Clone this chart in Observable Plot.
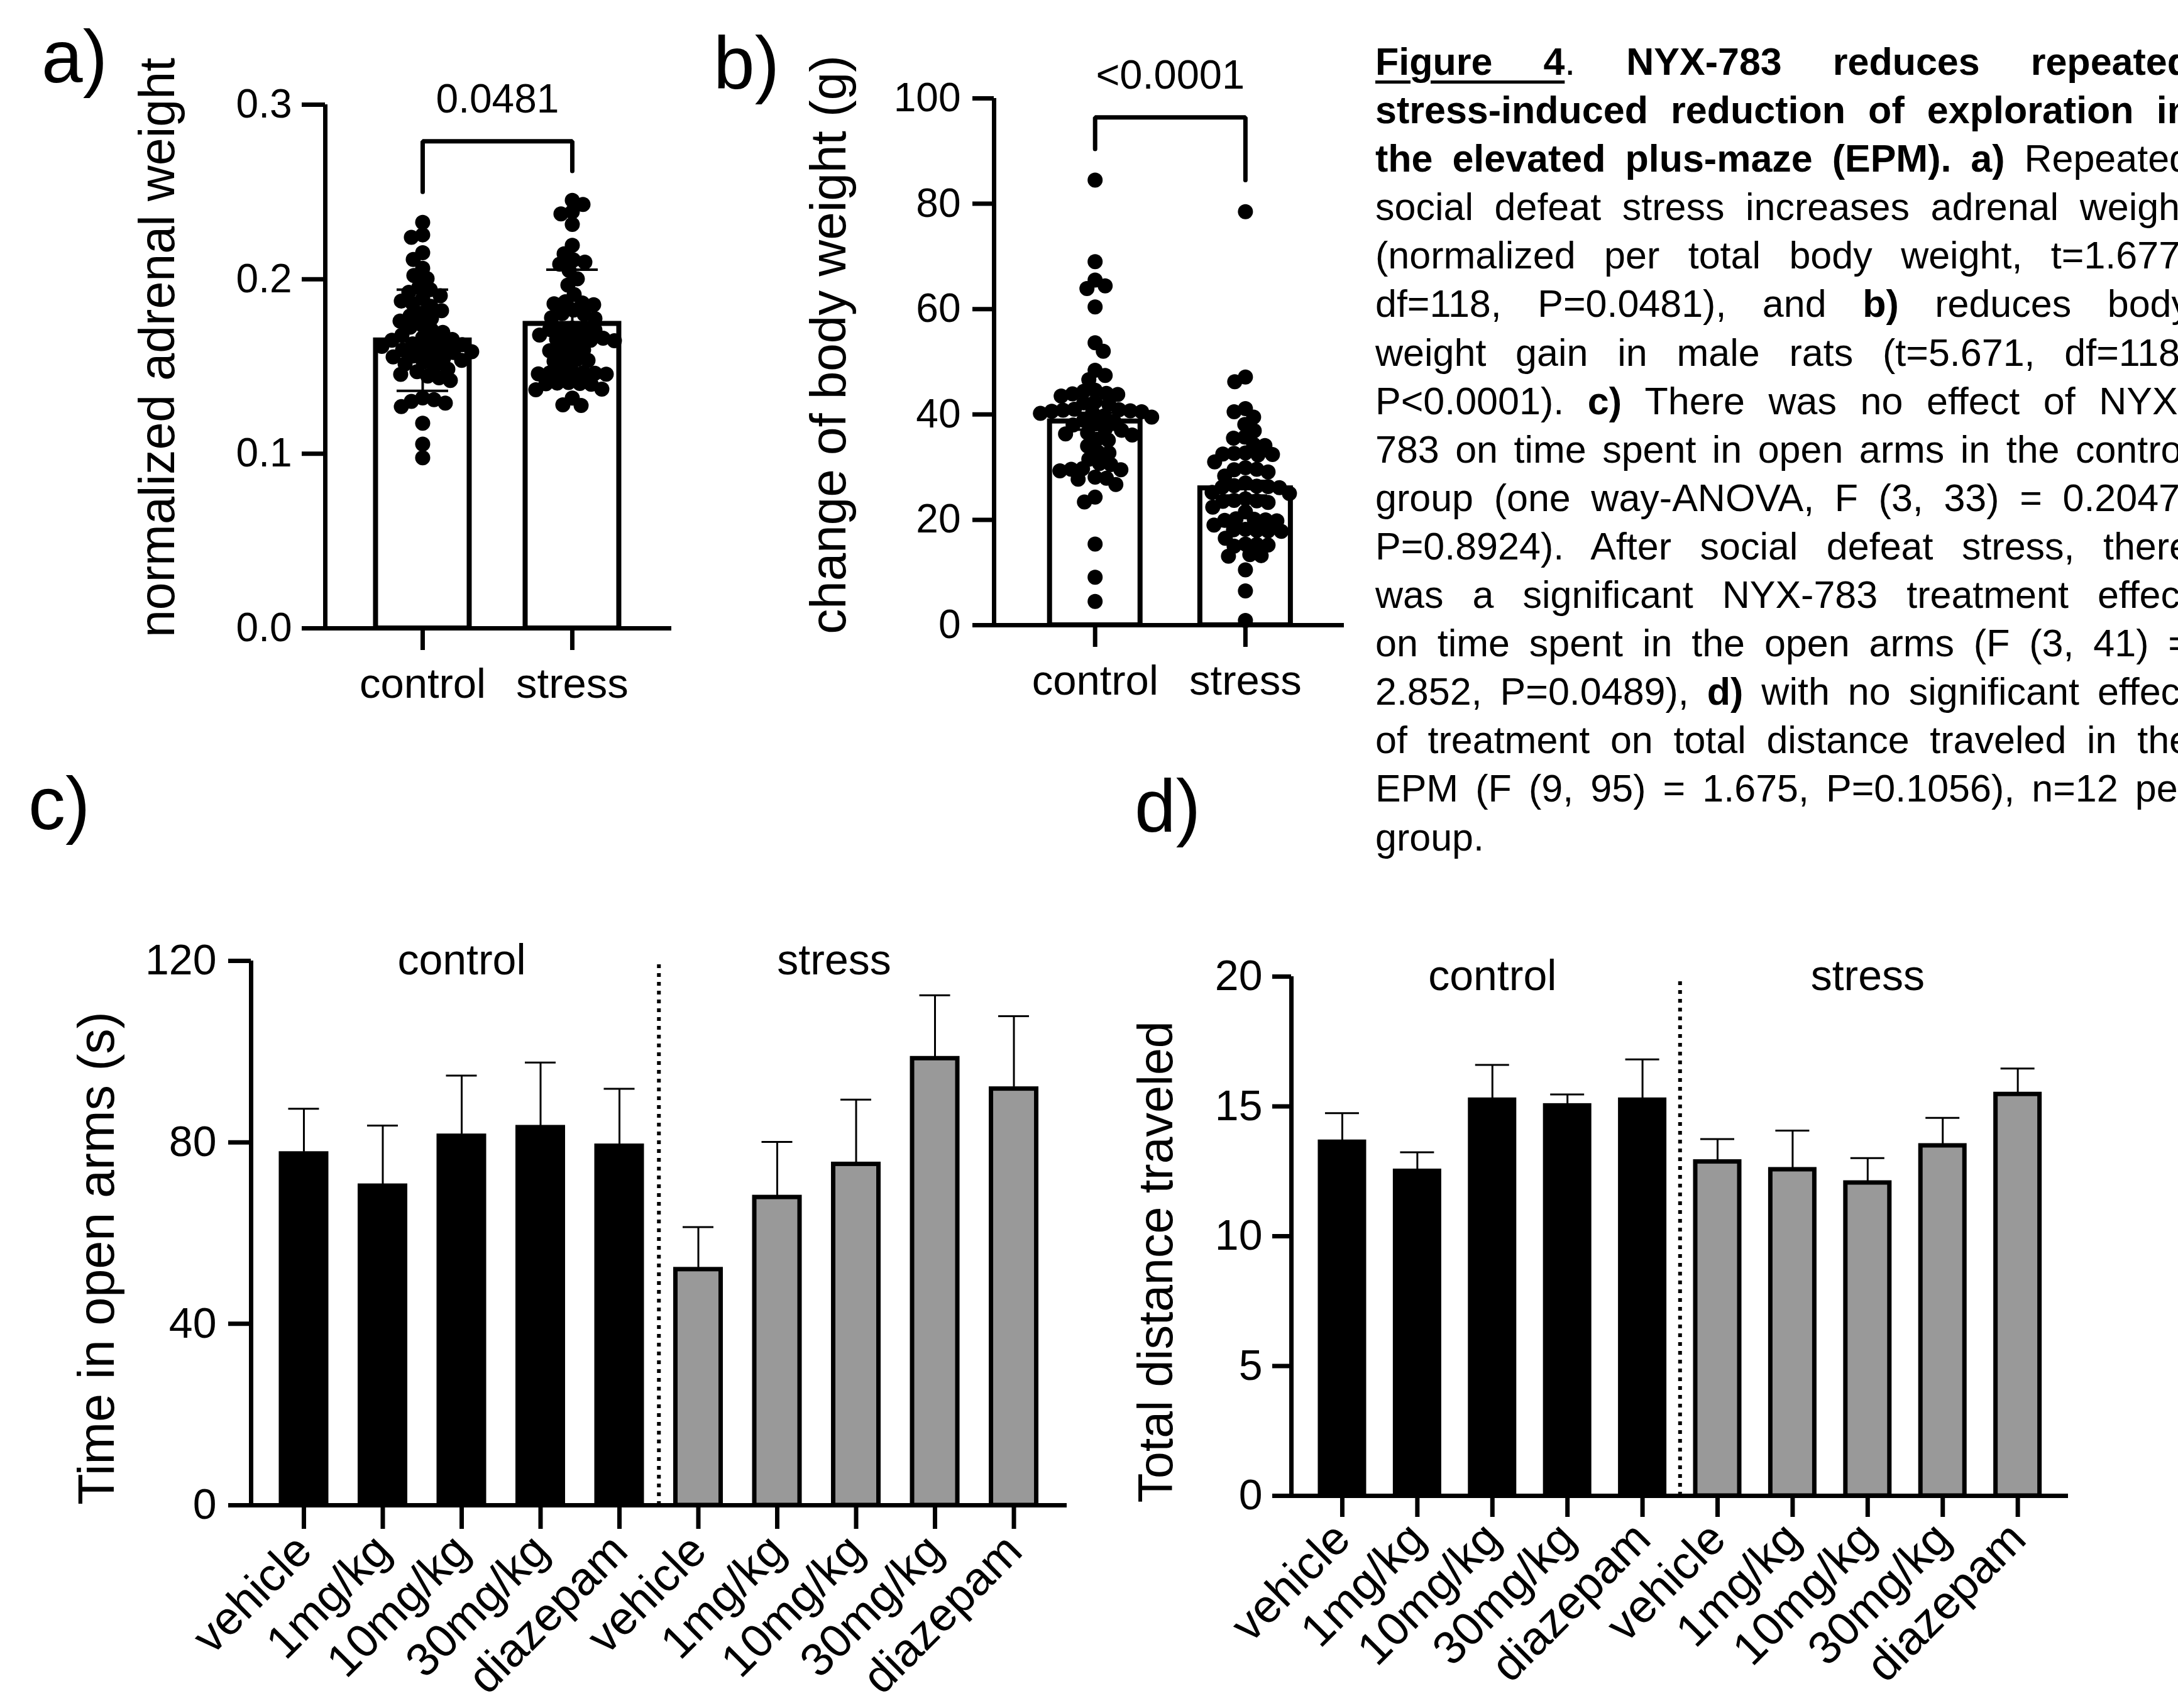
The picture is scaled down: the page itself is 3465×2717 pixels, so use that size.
<!DOCTYPE html>
<html>
<head>
<meta charset="utf-8">
<script src="https://cdn.jsdelivr.net/npm/d3@7"></script>
<script src="https://cdn.jsdelivr.net/npm/@observablehq/plot@0.6"></script>
<style>
html, body { margin: 0; padding: 0; background: #fff; }
#page { position: relative; width: 3465px; height: 2717px; overflow: hidden; background: #fff;
  font-family: "Liberation Sans", Arial, sans-serif; color: #000; }
.panel { position: absolute; }
.plabel { position: absolute; font-size: 118px; line-height: 1; }
#caption { position: absolute; left: 2188px; top: 60px; width: 1297px; font-size: 61px; line-height: 77.1px; }
#caption .ln { text-align: justify; text-align-last: justify; }
#caption .ln.last { text-align: left; text-align-last: left; }
#caption u { text-decoration-thickness: 5px; text-underline-offset: 9px; }
</style>
</head>
<body>
<div id="page">
  <div class="plabel" style="left:66px; top:31px;">a)</div>
  <div class="plabel" style="left:1135px; top:41px;">b)</div>
  <div class="plabel" style="left:45px; top:1219px;">c)</div>
  <div class="plabel" style="left:1805px; top:1223px;">d)</div>
  <div id="panelA" class="panel" style="left:0px; top:0px;"></div>
  <div id="panelB" class="panel" style="left:1100px; top:0px;"></div>
  <div id="panelC" class="panel" style="left:0px; top:1450px;"></div>
  <div id="panelD" class="panel" style="left:1750px; top:1450px;"></div>
  <div id="caption">
    <div class="ln"><b><u>Figure 4</u></b>. <b>NYX-783 reduces repeated</b></div>
    <div class="ln"><b>stress-induced reduction of exploration in</b></div>
    <div class="ln"><b>the elevated plus-maze (EPM). a)</b> Repeated</div>
    <div class="ln">social defeat stress increases adrenal weight</div>
    <div class="ln">(normalized per total body weight, t=1.677,</div>
    <div class="ln">df=118, P=0.0481), and <b>b)</b> reduces body</div>
    <div class="ln">weight gain in male rats (t=5.671, df=118,</div>
    <div class="ln">P&lt;0.0001). <b>c)</b> There was no effect of NYX-</div>
    <div class="ln">783 on time spent in open arms in the control</div>
    <div class="ln">group (one way-ANOVA, F (3, 33) = 0.2047,</div>
    <div class="ln">P=0.8924). After social defeat stress, there</div>
    <div class="ln">was a significant NYX-783 treatment effect</div>
    <div class="ln">on time spent in the open arms (F (3, 41) =</div>
    <div class="ln">2.852, P=0.0489), <b>d)</b> with no significant effect</div>
    <div class="ln">of treatment on total distance traveled in the</div>
    <div class="ln">EPM (F (9, 95) = 1.675, P=0.1056), n=12 per</div>
    <div class="ln last">group.</div>
  </div>
</div>
<script>
// ---------------- DATA ----------------
const groupsAB = ["control", "stress"];

// a) normalized adrenal weight (individual animals)
const adrenalControl = [0.2326, 0.2254, 0.2240, 0.2152, 0.2113, 0.2063, 0.2021, 0.2003,
  0.1955, 0.194, 0.1925, 0.1905, 0.189, 0.1875, 0.186, 0.1845, 0.182, 0.1805, 0.179, 0.1775,
  0.176, 0.174, 0.1725, 0.171, 0.1695, 0.168, 0.1665, 0.1655, 0.165, 0.164, 0.163, 0.1625,
  0.1615, 0.161, 0.160, 0.1595, 0.1585, 0.158, 0.157, 0.156, 0.1555, 0.1545, 0.1535, 0.1525,
  0.1515, 0.150, 0.1485, 0.147, 0.1455, 0.1445, 0.1435, 0.142,
  0.132, 0.130, 0.131, 0.129, 0.127, 0.1175, 0.1055, 0.0977];
const adrenalStress = [0.2452, 0.2428, 0.2386, 0.2374, 0.2314,
  0.2194, 0.2146, 0.2110, 0.2098, 0.2086, 0.2050, 0.2002, 0.1966,
  0.1912, 0.1871, 0.1859, 0.1864, 0.1854, 0.1823, 0.1799, 0.1803, 0.1775, 0.1779,
  0.1715, 0.1720, 0.1710, 0.1718, 0.1712, 0.168,
  0.1655, 0.1660, 0.1650, 0.1657, 0.1662, 0.1648,
  0.1595, 0.1600, 0.1590, 0.1597,
  0.1535, 0.1540, 0.1530, 0.1537,
  0.1463, 0.1468, 0.1458, 0.1465, 0.1470, 0.1456, 0.1461,
  0.1403, 0.1408, 0.1398, 0.1405, 0.1401,
  0.1367, 0.1370, 0.1319, 0.1277, 0.1280];
const adrenalMean = [0.165, 0.1745];
const adrenalSD = [0.029, 0.031];
const adrenalBracket = [0.250, 0.279, 0.262]; // left leg end, top, right leg end
const adrenalP = "0.0481";
const adrenalTicks = [0, 0.1, 0.2, 0.3];

// b) change of body weight (g)
const bodyControl = [84.5, 69.0, 65.5, 64.4, 63.9, 60.4, 53.6, 52.0, 48.4, 47.4, 46.6, 44.6, 44.4, 44.0,
  43.8, 43.5, 43.9, 42.2, 42.4, 41.9, 40.7, 40.9, 40.5, 40.8, 40.6, 41.0, 38.7, 38.9, 36.3, 36.5, 36.1,
  35.1, 35.3, 32.7, 32.9, 31.5, 29.5, 29.7, 29.3, 29.6, 27.9, 28.1, 27.7, 26.7, 24.3, 23.4, 15.4, 9.1, 4.5,
  40.2, 40.3, 39.5, 39.7, 38.0, 38.2, 37.0, 37.2, 34.0, 30.5, 30.7];
const bodyStress = [78.5, 47.1, 46.2, 41.1, 40.5, 39.5, 38.1, 36.9, 35.7, 35.5, 34.1, 34.3, 32.5, 32.7, 32.3,
  32.6, 32.4, 31.0, 29.9, 29.5, 29.6, 29.1, 28.3, 27.0, 26.3, 26.5, 26.1, 26.4, 26.2, 25.0, 25.2, 24.0,
  23.5, 23.7, 23.3, 23.6, 22.4, 21.5, 20.0, 20.2, 19.8, 20.1, 19.9, 19.0, 18.0, 18.2, 17.8, 18.1, 17.9,
  16.5, 15.2, 15.4, 15.0, 15.3, 13.2, 13.4, 13.1, 10.5, 6.5, 0.9];
const bodyMean = [38.7, 26.0];
const bodySEM = [1.6, 1.4];
const bodyBracket = [90.4, 96.4, 84.5];
const bodyP = "<0.0001";
const bodyTicks = [0, 20, 40, 60, 80, 100];

// c) and d) — ten groups
const treatments = ["vehicle", "1mg/kg", "10mg/kg", "30mg/kg", "diazepam",
                    "vehicle", "1mg/kg", "10mg/kg", "30mg/kg", "diazepam"];
const condition = ["control", "control", "control", "control", "control",
                   "stress", "stress", "stress", "stress", "stress"];
const openArmsMean = [77.9, 70.8, 81.8, 83.7, 79.6, 52.4, 68.3, 75.6, 98.9, 92.2];
const openArmsSEM  = [9.5, 12.9, 12.9, 13.9, 12.2, 8.9, 11.8, 13.8, 13.5, 15.6];
const openArmsTicks = [0, 40, 80, 120];
const distanceMean = [13.7, 12.58, 15.32, 15.1, 15.32, 12.94, 12.64, 12.13, 13.56, 15.54];
const distanceSEM  = [1.04, 0.65, 1.28, 0.36, 1.49, 0.8, 1.43, 0.88, 1.0, 0.92];
const distanceTicks = [0, 5, 10, 15, 20];
const conditionNames = ["control", "stress"];

// ---------------- HELPERS ----------------
const FONT = "Liberation Sans, Arial, Helvetica, sans-serif";
const GRAY = "#999999";

function swarm(vals, yPx, minDist) {
  const order = vals.map((_, i) => i).sort((a, b) => vals[b] - vals[a]);
  const placed = [];
  const off = new Array(vals.length).fill(0);
  order.forEach((i, n) => {
    const y = yPx(vals[i]);
    for (let k = 0; k < 600; k++) {
      const cands = k === 0 ? [0] : (n % 2 ? [k, -k] : [-k, k]);
      const c = cands.find(c => placed.every(p => (p.x - c) ** 2 + (p.y - y) ** 2 >= minDist * minDist));
      if (c !== undefined) { off[i] = c; placed.push({x: c, y}); return; }
    }
  });
  return off;
}

function dotPanel(cfg) {
  const {width, height, marginLeft, marginTop, marginBottom, marginRight, xDomain, yDomain} = cfg;
  const innerW = width - marginLeft - marginRight;
  const innerH = height - marginTop - marginBottom;
  const ppx = innerW / (xDomain[1] - xDomain[0]);
  const yPx = v => marginTop + (1 - (v - yDomain[0]) / (yDomain[1] - yDomain[0])) * innerH;
  const dots = [];
  cfg.series.forEach((vals, g) => {
    const off = swarm(vals, yPx, cfg.minDist);
    vals.forEach((v, i) => dots.push({x: g + off[i] / ppx, y: v}));
  });
  const bars = cfg.means.map((m, g) => ({g, m, lo: m - cfg.errs[g], hi: m + cfg.errs[g]}));
  const hw = cfg.barHalfPx / ppx, cw = cfg.capHalfPx / ppx;
  const [bl, bt, br] = cfg.bracket;
  const bracket = [{x: 0, y: bl}, {x: 0, y: bt}, {x: 1, y: bt}, {x: 1, y: br}];
  return Plot.plot({
    width, height, marginLeft, marginTop, marginBottom, marginRight,
    style: {fontFamily: FONT, color: "black", background: "transparent", overflow: "visible"},
    x: {domain: xDomain},
    y: {domain: yDomain},
    marks: [
      Plot.rectY(bars, {x1: d => d.g - hw, x2: d => d.g + hw, y1: 0, y2: "m", fill: "white", stroke: "black", strokeWidth: 8}),
      Plot.dot(dots, {x: "x", y: "y", r: cfg.r, fill: "black", stroke: null}),
      Plot.ruleX(bars, {x: "g", y1: "lo", y2: "hi", stroke: "black", strokeWidth: 4}),
      Plot.ruleY(bars, {y: "hi", x1: d => d.g - cw, x2: d => d.g + cw, stroke: "black", strokeWidth: 4}),
      Plot.ruleY(bars, {y: "lo", x1: d => d.g - cw, x2: d => d.g + cw, stroke: "black", strokeWidth: 4}),
      Plot.line(bracket, {x: "x", y: "y", stroke: "black", strokeWidth: 7, strokeLinecap: "round", strokeLinejoin: "miter"}),
      Plot.text([cfg.p], {x: 0.5, y: bt, text: d => d, lineAnchor: "bottom", dy: cfg.pDy, fontSize: cfg.pSize, fill: "black"}),
      Plot.ruleX([xDomain[0]], {stroke: "black", strokeWidth: 7}),
      Plot.ruleY([yDomain[0]], {stroke: "black", strokeWidth: 7, insetLeft: -cfg.yTickSize}),
      Plot.axisY({ticks: cfg.yTicks, tickFormat: cfg.yFormat, tickSize: cfg.yTickSize, tickPadding: cfg.yTickPadding,
        fontSize: cfg.yTickFont, strokeWidth: 7, label: null}),
      Plot.axisX({ticks: [0, 1], tickFormat: i => groupsAB[i], tickSize: cfg.xTickSize, tickPadding: cfg.xTickPadding,
        fontSize: cfg.xTickFont, strokeWidth: 7, label: null}),
      Plot.text([cfg.title], {frameAnchor: "left", text: d => d, rotate: -90, textAnchor: "middle", lineAnchor: "middle",
        dx: cfg.titleDx, dy: cfg.titleDy, fontSize: cfg.titleSize, fill: "black"})
    ]
  });
}

function barPanel(cfg) {
  const {width, height, marginLeft, marginTop, marginBottom, marginRight, xDomain, yDomain} = cfg;
  const innerW = width - marginLeft - marginRight;
  const ppx = innerW / (xDomain[1] - xDomain[0]);
  const hw = cfg.barHalfPx / ppx, cw = cfg.capHalfPx / ppx;
  const rows = cfg.means.map((m, i) => ({i, m, hi: m + cfg.errs[i], cond: condition[i]}));
  const groupLabels = conditionNames.map((c, k) => {
    const idx = rows.filter(r => r.cond === c).map(r => r.i);
    return {name: c, x: d3.mean(idx), dx: cfg.groupDx[k]};
  });
  return Plot.plot({
    width, height, marginLeft, marginTop, marginBottom, marginRight,
    style: {fontFamily: FONT, color: "black", background: "transparent", overflow: "visible"},
    x: {domain: xDomain},
    y: {domain: yDomain},
    marks: [
      Plot.ruleX(rows, {x: "i", y1: "m", y2: "hi", stroke: "black", strokeWidth: 3}),
      Plot.ruleY(rows, {y: "hi", x1: d => d.i - cw, x2: d => d.i + cw, stroke: "black", strokeWidth: 3}),
      Plot.rectY(rows, {x1: d => d.i - hw, x2: d => d.i + hw, y1: 0, y2: "m",
        fill: d => d.cond === "control" ? "black" : GRAY, stroke: "black", strokeWidth: 7, insetTop: 3}),
      Plot.ruleX([d3.mean([4, 5])], {y1: yDomain[0], y2: yDomain[1], stroke: "black", strokeWidth: 6, strokeDasharray: "6,8"}),
      ...groupLabels.map(g => Plot.text([g], {x: "x", y: yDomain[1], text: "name", dx: g.dx, fontSize: cfg.groupFont, fill: "black"})),
      Plot.ruleX([xDomain[0]], {stroke: "black", strokeWidth: 7}),
      Plot.ruleY([yDomain[0]], {stroke: "black", strokeWidth: 7, insetLeft: -cfg.yTickSize}),
      Plot.axisY({ticks: cfg.yTicks, tickSize: cfg.yTickSize, tickPadding: cfg.yTickPadding,
        fontSize: cfg.yTickFont, strokeWidth: 7, label: null}),
      Plot.axisX({ticks: d3.range(treatments.length), tickFormat: i => treatments[i], tickRotate: -45,
        tickSize: cfg.xTickSize, tickPadding: cfg.xTickPadding, fontSize: cfg.xTickFont, strokeWidth: 7, label: null}),
      Plot.text([cfg.title], {frameAnchor: "left", text: d => d, rotate: -90, textAnchor: "middle", lineAnchor: "middle",
        dx: cfg.titleDx, dy: cfg.titleDy, fontSize: cfg.titleSize, fill: "black"})
    ]
  });
}

// ---------------- PANELS ----------------
document.getElementById("panelA").append(dotPanel({
  width: 1100, height: 1150, marginLeft: 517, marginTop: 166, marginBottom: 151, marginRight: 32,
  xDomain: [-0.651, 1.664], yDomain: [0, 0.3],
  series: [adrenalControl, adrenalStress], means: adrenalMean, errs: adrenalSD,
  bracket: adrenalBracket, p: adrenalP, pDy: -46, pSize: 64,
  barHalfPx: 74.5, capHalfPx: 41, r: 12, minDist: 18,
  yTicks: adrenalTicks, yFormat: d3.format(".1f"), yTickSize: 37, yTickPadding: 16, yTickFont: 64,
  xTickSize: 35, xTickPadding: 28, xTickFont: 67,
  title: "normalized adrenal weight", titleDx: -266, titleDy: -30, titleSize: 79
}));

document.getElementById("panelB").append(dotPanel({
  width: 1100, height: 1150, marginLeft: 481, marginTop: 156, marginBottom: 156, marginRight: 62,
  xDomain: [-0.672, 1.657], yDomain: [0, 100],
  series: [bodyControl, bodyStress], means: bodyMean, errs: bodySEM,
  bracket: bodyBracket, p: bodyP, pDy: -46, pSize: 65,
  barHalfPx: 72, capHalfPx: 35, r: 12, minDist: 18,
  yTicks: bodyTicks, yFormat: d3.format("d"), yTickSize: 34, yTickPadding: 19, yTickFont: 64,
  xTickSize: 35, xTickPadding: 28, xTickFont: 67,
  title: "change of body weight (g)", titleDx: -262, titleDy: -27, titleSize: 80
}));

document.getElementById("panelC").append(barPanel({
  width: 1750, height: 1267, marginLeft: 399, marginTop: 78, marginBottom: 323, marginRight: 53,
  xDomain: [-0.669, 9.673], yDomain: [0, 120],
  means: openArmsMean, errs: openArmsSEM, barHalfPx: 36, capHalfPx: 24.5,
  groupDx: [0, -35], groupFont: 68,
  yTicks: openArmsTicks, yTickSize: 36, yTickPadding: 19, yTickFont: 68,
  xTickSize: 38, xTickPadding: 22, xTickFont: 74,
  title: "Time in open arms (s)", titleDx: -244, titleDy: 40, titleSize: 81
}));

document.getElementById("panelD").append(barPanel({
  width: 1715, height: 1267, marginLeft: 304, marginTop: 103, marginBottom: 338, marginRight: 175,
  xDomain: [-0.678, 9.673], yDomain: [0, 20],
  means: distanceMean, errs: distanceSEM, barHalfPx: 35, capHalfPx: 27,
  groupDx: [0, 0], groupFont: 68,
  yTicks: distanceTicks, yTickSize: 30, yTickPadding: 16, yTickFont: 68,
  xTickSize: 34, xTickPadding: 22, xTickFont: 74,
  title: "Total distance traveled", titleDx: -214, titleDy: 41, titleSize: 77
}));
</script>
</body>
</html>
